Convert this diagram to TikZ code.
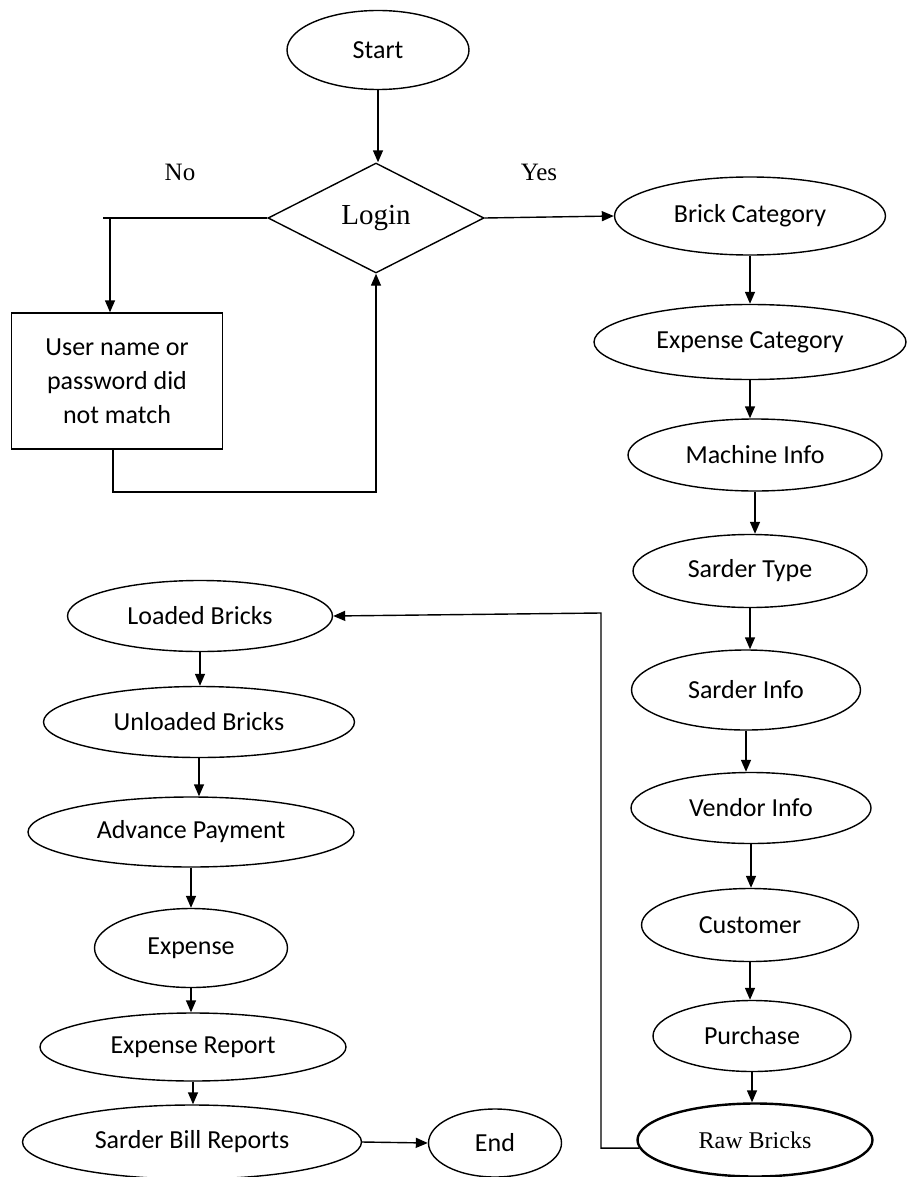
\documentclass[tikz,border=0pt]{standalone}
\usepackage{fontspec}
\setmainfont{Carlito}
\newfontfamily\timesfont{Liberation Serif}
\usetikzlibrary{shapes.geometric,arrows.meta}
\tikzset{
  oval/.style={ellipse, draw, line width=0.7pt, inner sep=0pt, font=\fontsize{13}{15}\selectfont},
  decision/.style={diamond, draw, line width=0.7pt, inner sep=0pt, aspect=2, minimum width=108pt, minimum height=55pt, font=\timesfont\fontsize{14.5}{16}\selectfont},
  msgbox/.style={rectangle, draw, line width=0.7pt, inner sep=0pt, minimum width=105.5pt, minimum height=68pt, align=center, font=\fontsize{13}{17}\selectfont},
  answer/.style={font=\timesfont\fontsize{12.5}{14}\selectfont},
  arr/.style={-{Triangle[width=5pt,length=6pt]}, line width=0.7pt},
  link/.style={line width=0.7pt}
}
\begin{document}
\begin{tikzpicture}[x=0.5pt,y=-0.5pt]
   \useasboundingbox (0,0) rectangle (908,1177);
   % login part
   \node[oval, minimum width=91pt, minimum height=39.5pt] (start) at (378,50) {Start};
   \node[decision] (login) at (376,218) {Login};
   \node[answer] (no) at (180,172) {No};
   \node[answer] (yes) at (539,172) {Yes};
   \node[msgbox] (fail) at (117,381) {User name or\\password did\\not match};
   \coordinate (nostub) at (103,218);
   \coordinate (nodrop) at (110,218);
   \coordinate (retry) at (113,492);
   \draw[arr] (start.south) -- (start.south |- login.north);
   \draw[link] (login.west) -- (nostub);
   \draw[arr] (nodrop) -- (nodrop |- fail.north);
   \draw[arr] (fail.south -| retry) -- (retry) -| (login.south);
   % right column
   \node[oval, minimum width=135.5pt, minimum height=39pt] (brick) at (750,216) {Brick Category};
   \node[oval, minimum width=156pt, minimum height=37.5pt] (expcat) at (750,342) {Expense Category};
   \node[oval, minimum width=127pt, minimum height=36pt] (machine) at (755,455) {Machine Info};
   \node[oval, minimum width=117pt, minimum height=36.5pt] (stype) at (750,571) {Sarder Type};
   \node[oval, minimum width=114.5pt, minimum height=40pt] (sinfo) at (746,690) {Sarder Info};
   \node[oval, minimum width=120pt, minimum height=35.5pt] (vendor) at (751,808) {Vendor Info};
   \node[oval, minimum width=108.5pt, minimum height=36.5pt] (customer) at (750,925) {Customer};
   \node[oval, minimum width=99pt, minimum height=35.5pt] (purchase) at (752,1036) {Purchase};
   \node[oval, line width=1.2pt, minimum width=117.5pt, minimum height=36.5pt, font=\timesfont\fontsize{12}{14}\selectfont] (raw) at (755,1140) {Raw Bricks};
   \draw[arr] (login.east) -- (brick.west);
   \draw[arr] (brick.south) -- (brick.south |- expcat.north);
   \draw[arr] (expcat.south) -- (expcat.south |- machine.north);
   \draw[arr] (machine.south) -- (machine.south |- stype.north);
   \draw[arr] (stype.south) -- (stype.south |- sinfo.north);
   \draw[arr] (sinfo.south) -- (sinfo.south |- vendor.north);
   \draw[arr] (vendor.south) -- (vendor.south |- customer.north);
   \draw[arr] (customer.south) -- (customer.south |- purchase.north);
   \draw[arr] (purchase.south) -- (purchase.south |- raw.north);
   % left column
   \node[oval, minimum width=132.5pt, minimum height=35.5pt] (loaded) at (200,616) {Loaded Bricks};
   \node[oval, minimum width=155.5pt, minimum height=35.5pt] (unloaded) at (199,722) {Unloaded Bricks};
   \node[oval, minimum width=163pt, minimum height=35pt] (advance) at (191,832) {Advance Payment};
   \node[oval, minimum width=96.5pt, minimum height=39.5pt] (expense) at (191,948) {Expense};
   \node[oval, minimum width=153pt, minimum height=34pt] (expreport) at (193,1047) {Expense Report};
   \node[oval, minimum width=169.5pt, minimum height=37pt] (bill) at (192,1142) {Sarder Bill Reports};
   \node[oval, minimum width=66.5pt, minimum height=34pt] (end) at (495,1143) {End};
   \coordinate (loopup) at (601,613);
   \draw[arr] (raw.184) -| (loopup) -- (loaded.east);
   \draw[arr] (loaded.south) -- (loaded.south |- unloaded.north);
   \draw[arr] (unloaded.south) -- (unloaded.south |- advance.north);
   \draw[arr] (advance.south) -- (advance.south |- expense.north);
   \draw[arr] (expense.south) -- (expense.south |- expreport.north);
   \draw[arr] (expreport.south) -- (expreport.south |- bill.north);
   \draw[arr] (bill.east) -- (end.west);
\end{tikzpicture}
\end{document}
